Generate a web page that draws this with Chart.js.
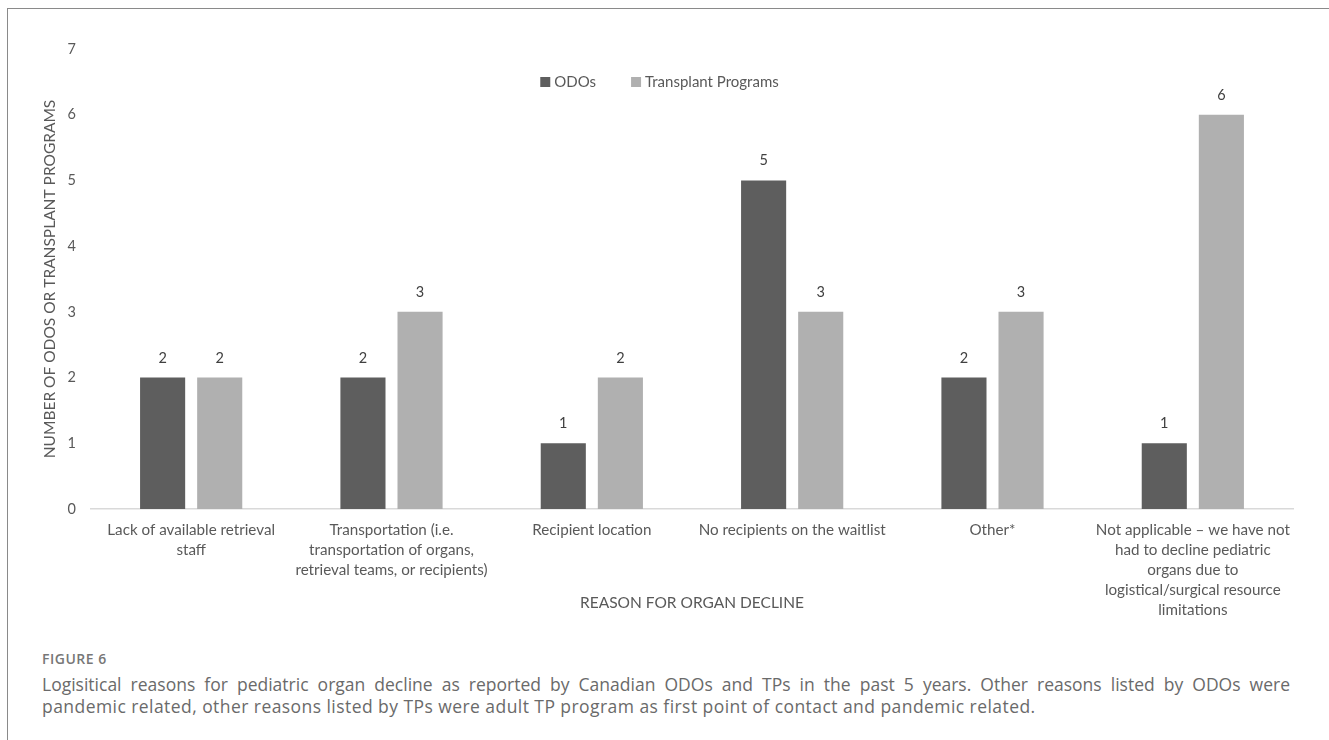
<!DOCTYPE html>
<html>
<head>
<meta charset="utf-8">
<script src="https://cdn.jsdelivr.net/npm/chart.js@4.4.1/dist/chart.umd.min.js"></script>
<style>
  html, body { margin: 0; padding: 0; background: #fff; width: 1329px; height: 740px; overflow: hidden; }
  #frame { position: absolute; left: 7px; top: 8px; width: 1322px; height: 760px; border-top: 1px solid #8a8a8a; border-left: 1px solid #8a8a8a; }
  #wrap { position: absolute; left: 0; top: 0; width: 1329px; height: 640px; }
  #fig { position: absolute; left: 42px; top: 649px; font: 600 14px 'Open Sans', sans-serif; letter-spacing: 0.5px; color: #777; }
  #cap { position: absolute; left: 42px; top: 673px; width: 1248px; font: 17.5px/22px 'Open Sans', sans-serif; letter-spacing: 0.44px; color: #6a6a6a; }
  .j { text-align: justify; text-align-last: justify; white-space: nowrap; letter-spacing: 0; }
</style>
</head>
<body>
<div id="frame"></div>
<div id="wrap"><canvas id="c"></canvas></div>
<div id="fig">FIGURE 6</div>
<div id="cap">
  <div class="j">Logisitical reasons for pediatric organ decline as reported by Canadian ODOs and TPs in the past 5 years. Other reasons listed by ODOs were</div>
  <div>pandemic related, other reasons listed by TPs were adult TP program as first point of contact and pandemic related.</div>
</div>
<script>
// Reasons (multi-line category labels)
const categories = [
  ["Lack of available retrieval", "staff"],
  ["Transportation (i.e.", "transportation of organs,", "retrieval teams, or recipients)"],
  ["Recipient location"],
  ["No recipients on the waitlist"],
  ["Other*"],
  ["Not applicable – we have not", "had to decline pediatric", "organs due to", "logistical/surgical resource", "limitations"]
];
const seriesNames = ["ODOs", "Transplant Programs"];
const odoValues = [2, 2, 1, 5, 2, 1];
const tpValues = [2, 3, 2, 3, 3, 6];
const yTickValues = [0, 1, 2, 3, 4, 5, 6, 7];

const FONT = "Lato";
const TEXT = "#595959";

// Value labels above each bar
const barValueLabels = {
  id: 'barValueLabels',
  afterDatasetsDraw(chart) {
    const ctx = chart.ctx;
    ctx.save();
    ctx.font = "14.5px " + FONT;
    ctx.fillStyle = "#404040";
    ctx.textAlign = "center";
    ctx.textBaseline = "alphabetic";
    chart.data.datasets.forEach((ds, i) => {
      chart.getDatasetMeta(i).data.forEach((el, j) => {
        ctx.fillText(String(ds.data[j]), el.x, el.y - 15);
      });
    });
    ctx.restore();
  }
};

// Horizontal legend drawn inside the plot, near the top
const insideLegend = {
  id: 'insideLegend',
  afterDraw(chart) {
    const ctx = chart.ctx;
    const box = 10, gapText = 4, gapItem = 35;
    ctx.save();
    ctx.font = "15px " + FONT;
    const items = chart.data.datasets.map(ds => ({ text: ds.label, color: ds.backgroundColor, w: ctx.measureText(ds.label).width }));
    const total = items.reduce((s, it) => s + box + gapText + it.w, 0) + gapItem * (items.length - 1);
    let x = chart.width / 2 - 5 - total / 2;
    const y = chart.chartArea.top + 33;
    ctx.textBaseline = "middle";
    ctx.textAlign = "left";
    items.forEach(it => {
      ctx.fillStyle = it.color;
      ctx.fillRect(x, y - box / 2, box, box);
      x += box + gapText;
      ctx.fillStyle = TEXT;
      ctx.fillText(it.text, x, y);
      x += it.w + gapItem;
    });
    ctx.restore();
  }
};

new Chart(document.getElementById('c'), {
  type: 'bar',
  data: {
    labels: categories,
    datasets: [
      { label: seriesNames[0], data: odoValues, backgroundColor: "#5e5e5e" },
      { label: seriesNames[1], data: tpValues, backgroundColor: "#b0b0b0" }
    ]
  },
  options: {
    responsive: true,
    maintainAspectRatio: false,
    animation: false,
    categoryPercentage: 0.57,
    barPercentage: 0.79,
    layout: { padding: { left: 37, right: 36, top: 49, bottom: 24 } },
    plugins: {
      tooltip: { enabled: false },
      legend: { display: false }
    },
    scales: {
      x: {
        grid: { display: false, drawTicks: false },
        border: { display: true, color: "#d9d9d9", width: 1.5 },
        ticks: {
          color: TEXT, font: { family: FONT, size: 15.2, lineHeight: 1.32 },
          padding: 11, maxRotation: 0, minRotation: 0, autoSkip: false
        },
        title: {
          display: true, text: "REASON FOR ORGAN DECLINE",
          color: TEXT, font: { family: FONT, size: 15.5 }, padding: { top: 4, bottom: 4 }
        },
        afterFit(scale) { scale.height = 107; }
      },
      y: {
        min: 0, max: 7,
        afterBuildTicks(scale) { scale.ticks = yTickValues.map(v => ({ value: v })); },
        grid: { display: false, drawTicks: false },
        border: { display: false },
        ticks: { color: TEXT, font: { family: FONT, size: 14.5 }, padding: 15 },
        title: {
          display: true, text: "NUMBER OF ODOS OR TRANSPLANT PROGRAMS",
          color: TEXT, font: { family: FONT, size: 15.5 }, padding: { top: 4, bottom: 4 }
        },
        afterFit(scale) { scale.width = 54; }
      }
    }
  },
  plugins: [barValueLabels, insideLegend]
});
</script>
</body>
</html>
